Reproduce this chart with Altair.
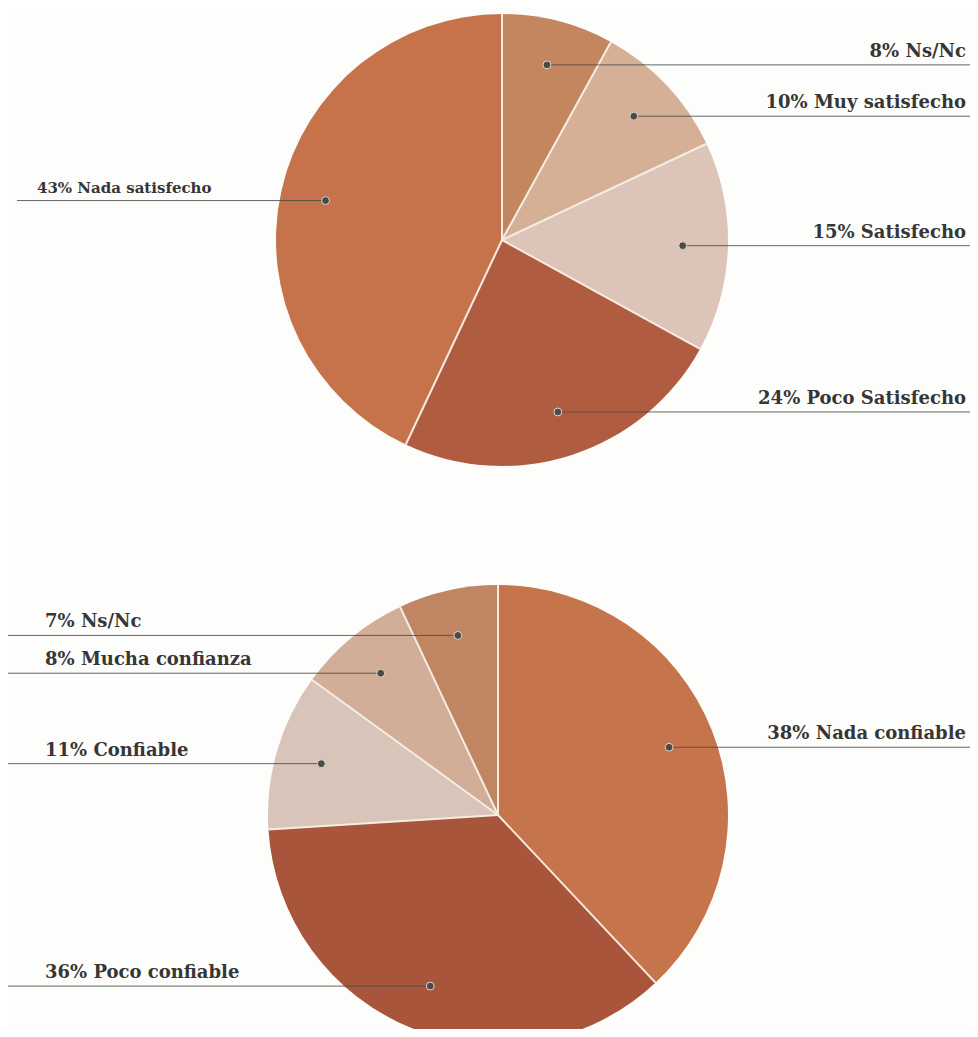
import altair as alt
import pandas as pd

# ---- data ----
sat_cats = ["Ns/Nc", "Muy satisfecho", "Satisfecho", "Poco Satisfecho", "Nada satisfecho"]
sat_values = [8, 10, 15, 24, 43]
sat_colors = ["#c3865f", "#d5b097", "#dcc4b8", "#b05c40", "#c6724b"]

conf_cats = ["Nada confiable", "Poco confiable", "Confiable", "Mucha confianza", "Ns/Nc"]
conf_values = [38, 36, 11, 8, 7]
conf_colors = ["#c6744b", "#a9553b", "#d9c4b9", "#d2ae98", "#c08664"]

# ---- layout ----
W, H = 962, 1021
TEXT_FONT = "DejaVu Serif"
TEXT_COLOR = "#363636"
LINE_COLOR = "#4a4a4a"
DOT_COLOR = "#4a4a48"
SEP_COLOR = "#f6ede2"


def pie(cats, values, colors, cx, cy, R, left_text_x, left_edge, left_size):
    df = pd.DataFrame({"cat": cats, "pct": values, "ord": list(range(len(cats)))})
    df["label"] = [f"{v}% {c}" for v, c in zip(values, cats)]
    base = alt.Chart(df)

    arcs = base.mark_arc(outerRadius=R, strokeWidth=0).encode(
        theta=alt.Theta("pct:Q", stack=True),
        color=alt.Color("cat:N", scale=alt.Scale(domain=cats, range=colors), legend=None),
        order=alt.Order("ord:Q"),
        x=alt.value(cx),
        y=alt.value(cy),
    )

    r = 0.8 * R
    pts = base.transform_window(
        cum="sum(pct)", sort=[alt.SortField("ord")], frame=[None, 0]
    ).transform_joinaggregate(total="sum(pct)").transform_calculate(
        mid="(datum.cum - datum.pct / 2) / datum.total * 2 * PI",
        end="datum.cum / datum.total * 2 * PI",
    ).transform_calculate(
        px=f"{cx} + {r} * sin(datum.mid)",
        py=f"{cy} - {r} * cos(datum.mid)",
        bx=f"{cx} + {R} * sin(datum.end)",
        by=f"{cy} - {R} * cos(datum.end)",
        ox=f"{cx} + 0 * datum.pct",
        oy=f"{cy} + 0 * datum.pct",
        right="sin(datum.mid) > 0",
    ).transform_calculate(
        edge=f"datum.right ? {W} : {left_edge}"
    )

    seps = pts.mark_rule(color=SEP_COLOR, strokeWidth=2).encode(
        x=alt.X("ox:Q", scale=None),
        y=alt.Y("oy:Q", scale=None),
        x2="bx:Q",
        y2="by:Q",
    )
    lines = pts.mark_rule(color=LINE_COLOR, strokeWidth=1, opacity=0.85).encode(
        x=alt.X("px:Q", scale=None),
        x2="edge:Q",
        y=alt.Y("py:Q", scale=None),
    )
    dots = pts.mark_circle(size=62, color=DOT_COLOR, opacity=1, stroke="#e2d6ca", strokeWidth=1).encode(
        x=alt.X("px:Q", scale=None),
        y=alt.Y("py:Q", scale=None),
    )
    right_text = pts.transform_filter("datum.right").mark_text(
        align="right", baseline="alphabetic", dy=-8, font=TEXT_FONT,
        fontWeight="bold", fontSize=18, color=TEXT_COLOR,
    ).encode(
        x=alt.value(W - 4),
        y=alt.Y("py:Q", scale=None),
        text="label:N",
    )
    left_text = pts.transform_filter("!datum.right").mark_text(
        align="left", baseline="alphabetic", dy=-8, font=TEXT_FONT,
        fontWeight="bold", fontSize=left_size, color=TEXT_COLOR,
    ).encode(
        x=alt.value(left_text_x),
        y=alt.Y("py:Q", scale=None),
        text="label:N",
    )
    return [arcs, seps, lines, dots, right_text, left_text]


layers = pie(sat_cats, sat_values, sat_colors, 494, 232, 226, 29, 9, 15) + \
         pie(conf_cats, conf_values, conf_colors, 490, 807, 230, 37, 0, 18)

chart = alt.layer(*layers).resolve_scale(
    color="independent", theta="independent"
).properties(
    width=W, height=H, padding=0, autosize="none", background="#fdfdfb"
).configure_view(stroke=None)

chart.save("out.html", embed_options={"renderer": "svg", "actions": False})
